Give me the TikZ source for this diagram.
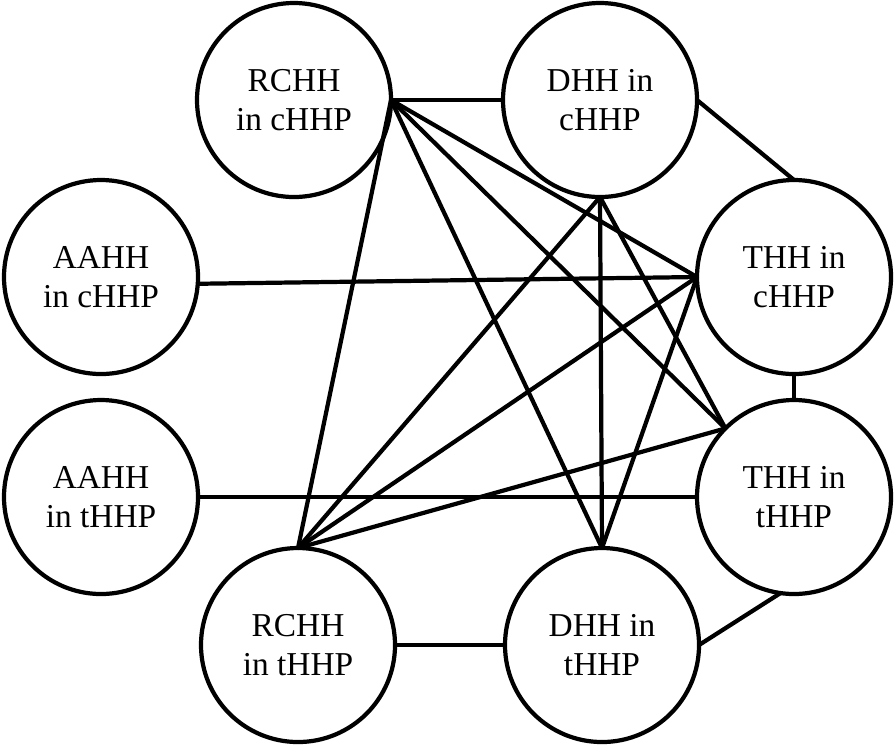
\documentclass[tikz,border=0pt]{standalone}
\usepackage{fontspec}
\setmainfont{Liberation Serif}

\begin{document}
\begin{tikzpicture}[x=1cm,y=-1cm,line width=1.2pt,
  hh/.style={draw,circle,minimum size=1.94cm,inner sep=0pt,outer sep=0pt,align=center,font=\fontsize{9.5}{11}\selectfont}]
\useasboundingbox (0,0) rectangle (8.96,7.47);
\node[hh] (rcc) at (2.94,1.00) {RCHH\\in cHHP};
\node[hh] (dc) at (6.00,1.00) {DHH in\\cHHP};
\node[hh] (ac) at (1.01,2.77) {AAHH\\in cHHP};
\node[hh] (tc) at (7.94,2.77) {THH in\\cHHP};
\node[hh] (at) at (1.01,4.97) {AAHH\\in tHHP};
\node[hh] (tt) at (7.94,4.97) {THH in\\tHHP};
\node[hh] (rt) at (2.98,6.45) {RCHH\\in tHHP};
\node[hh] (dt) at (6.02,6.45) {DHH in\\tHHP};
% from RCHH in cHHP
\draw (rcc.east) -- (dc.west);
\draw (rcc.east) -- (rt.north);
\draw (rcc.east) -- (tc.west);
\draw (rcc.east) -- (tt.north west);
\draw (rcc.east) -- (dt.north);
% from DHH in cHHP
\draw (dc.south) -- (rt.north);
\draw (dc.south) -- (dt.north);
\draw (dc.south) -- (tt.north west);
\draw (dc.east) -- (tc.north);
% THH in cHHP
\draw (ac.-4) -- (tc.west);
\draw (tc.west) -- (rt.north);
\draw (tc.west) -- (dt.north);
\draw (tc.south) -- (tt.north);
% THH in tHHP
\draw (at.east) -- (tt.west);
\draw (tt.north west) -- (rt.north);
\draw (tt.262) -- (dt.east);
\draw (rt.east) -- (dt.west);
\end{tikzpicture}
\end{document}
